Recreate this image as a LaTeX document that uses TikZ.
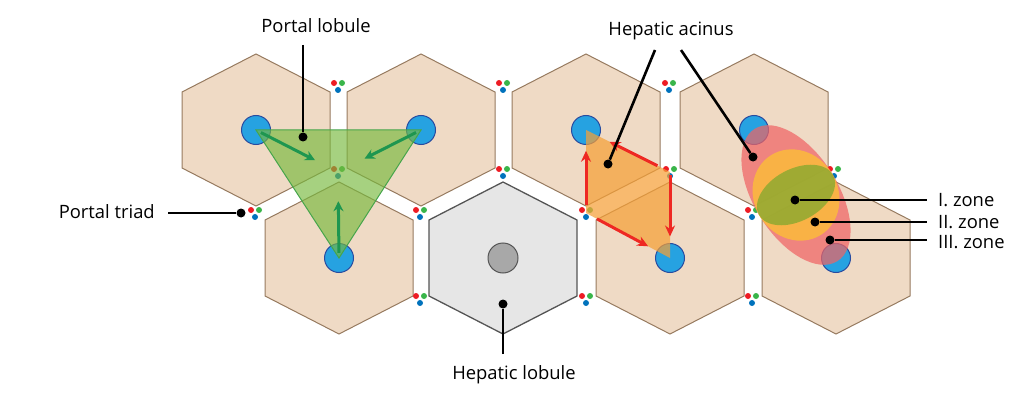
\documentclass[tikz,border=0pt]{standalone}
\usepackage{fontspec}
\setmainfont{Open Sans}
\usetikzlibrary{
		calc,
		positioning,
		arrows.meta
	}
\tikzset{
		>=stealth
	}
\definecolor{celltan}{RGB}{239,218,197}
\definecolor{cellline}{RGB}{150,122,95}
\definecolor{hepgrey}{RGB}{230,230,230}
\definecolor{hepline}{RGB}{85,85,85}
\definecolor{veingrey}{RGB}{168,168,168}
\definecolor{veinblue}{RGB}{38,162,225}
\definecolor{veinline}{RGB}{40,75,160}
\definecolor{trired}{RGB}{237,28,36}
\definecolor{trigreen}{RGB}{57,181,74}
\definecolor{triblue}{RGB}{0,114,188}
\definecolor{lobgreen}{RGB}{118,185,60}
\definecolor{lobedge}{RGB}{70,165,75}
\definecolor{lobdark}{RGB}{30,150,80}
\definecolor{aciorange}{RGB}{245,160,55}
\definecolor{acired}{RGB}{238,40,35}
\definecolor{zonered}{RGB}{240,100,100}
\definecolor{zoneyellow}{RGB}{252,190,55}
\definecolor{zonegreen}{RGB}{125,168,45}

\begin{document}
\begin{tikzpicture}[x=1pt, y=-1pt,
		cell/.style={draw=cellline, fill=celltan, line width=1pt},
		hepcell/.style={draw=hepline, fill=hepgrey, line width=1.3pt},
		vein/.style={circle, draw=veinline, fill=veinblue, line width=1pt, minimum size=29pt, inner sep=0pt},
		cvein/.style={circle, draw=hepline, fill=veingrey, line width=1pt, minimum size=30pt, inner sep=0pt},
		lobfill/.style={fill=lobgreen, fill opacity=0.65, draw=lobedge, line width=1pt},
		acifill/.style={fill=aciorange, fill opacity=0.72},
		lobarrow/.style={draw=lobdark, line width=3pt, -{Stealth[length=10pt, width=10pt]}},
		aciarrow/.style={draw=acired, line width=3pt, -{Stealth[length=11pt, width=10pt]}},
		dot/.style={circle, fill=black, minimum size=9pt, inner sep=0pt},
		pointer/.style={draw=black, line width=2.6pt},
		lbl/.style={font=\fontsize{18.4}{22}\selectfont, inner sep=0pt}]
	\useasboundingbox (0,0) rectangle (1033,409);
	% lobule centres
	\coordinate (h1) at (256,130);
	\coordinate (h2) at (421,130);
	\coordinate (h3) at (586,130);
	\coordinate (h4) at (754,130);
	\coordinate (h5) at (339,258);
	\coordinate (h6) at (503,258);
	\coordinate (h7) at (670,258);
	\coordinate (h8) at (836,258);
	\foreach \c in {h1,h2,h3,h4,h5,h7,h8}
		\draw[cell] ($(\c)+(0,-76)$) -- ++(74,38) -- ++(0,76) -- ++(-74,38) -- ++(-74,-38) -- ++(0,-76) -- cycle;
	\draw[hepcell] ($(h6)+(0,-76)$) -- ++(74,38) -- ++(0,76) -- ++(-74,38) -- ++(-74,-38) -- ++(0,-76) -- cycle;
	% central veins
	\node[vein] (v1) at (h1) {};
	\node[vein] (v2) at (h2) {};
	\node[vein] (v3) at (h3) {};
	\node[vein] (v4) at (h4) {};
	\node[vein] (v5) at (h5) {};
	\node[cvein] (v6) at (h6) {};
	\node[vein] (v7) at (h7) {};
	\node[vein] (v8) at (h8) {};
	% portal triads
	\foreach \x/\y [count=\i] in {338/86, 503/86, 669/86, 255/213, 420/213, 586/213, 752/213,
			338/172, 503/172, 670/172, 834/172, 420/299, 586/299, 752/299}{
		\coordinate (t\i) at (\x,\y);
		\fill[trired] ($(t\i)+(-4,-3)$) circle (3pt);
		\fill[trigreen] ($(t\i)+(4,-3)$) circle (3pt);
		\fill[triblue] ($(t\i)+(0,4)$) circle (3pt);
	}
	% portal lobule
	\filldraw[lobfill] (v1.center) -- (v2.center) -- (v5.center) -- cycle;
	\draw[lobarrow] ($(v1)!0.06!(t8)$) -- ($(v1)!0.72!(t8)$);
	\draw[lobarrow] ($(v2)!0.06!(t8)$) -- ($(v2)!0.68!(t8)$);
	\draw[lobarrow] ($(v5)!0.06!(t8)$) -- ($(v5)!0.66!(t8)$);
	% hepatic acinus
	\fill[acifill] (v3.center) -- (t10) -- (v7.center) -- (t6) -- cycle;
	\draw[aciarrow] ($(t6)!0.1!(v3)$) -- ($(t6)!0.75!(v3)$);
	\draw[aciarrow] ($(t10)!0.15!(v3)$) -- ($(t10)!0.72!(v3)$);
	\draw[aciarrow] ($(t10)!0.04!(v7)$) -- ($(t10)!0.75!(v7)$);
	\draw[aciarrow] ($(t6)!0.13!(v7)$) -- ($(t6)!0.74!(v7)$);
	% zones
	\coordinate (zc) at (796,195);
	\fill[zonered, fill opacity=0.72, rotate around={-58:(zc)}] (zc) ellipse [x radius=78pt, y radius=42pt];
	\fill[zoneyellow, fill opacity=0.8, rotate around={-58:(zc)}] (zc) ellipse [x radius=47pt, y radius=42pt];
	\fill[zonegreen, fill opacity=0.72, rotate around={28:(zc)}] (zc) ellipse [x radius=42pt, y radius=26pt];
	% labels
	\node[lbl] (loblbl) at (316,26) {Portal lobule};
	\node[lbl, anchor=east] (trilbl) at (155,212) {Portal triad};
	\node[lbl] (heplbl) at (514,375) {Hepatic lobule};
	\node[lbl] (acilbl) at (671,31) {Hepatic acinus};
	\node[lbl, anchor=west] (z1lbl) at (938,200) {I. zone};
	\node[lbl, anchor=west] (z2lbl) at (938,222) {II. zone};
	\node[lbl, anchor=west] (z3lbl) at (938,242) {III. zone};
	\node[dot] (d1) at (303,137) {};
	\node[dot] (d2) at (241,213) {};
	\node[dot] (d3) at (503,304) {};
	\node[dot] (d4) at (608,164) {};
	\node[dot] (d5) at (753,157) {};
	\node[dot] (d6) at (795,200) {};
	\node[dot] (d7) at (815,222) {};
	\node[dot] (d8) at (830,240) {};
	\coordinate (p1) at (303,45);
	\coordinate (p2) at (168,213);
	\coordinate (p3) at (503,354);
	\coordinate (p4) at (655,50);
	\coordinate (p5) at (681,50);
	\coordinate (p6) at (927,200);
	\coordinate (p7) at (927,222);
	\coordinate (p8) at (927,240);
	\draw[pointer] (p1) -- (d1);
	\draw[pointer] (p2) -- (d2);
	\draw[pointer] (p3) -- (d3);
	\draw[pointer] (p4) -- (d4);
	\draw[pointer] (p5) -- (d5);
	\draw[pointer] (d6) -- (p6);
	\draw[pointer] (d7) -- (p7);
	\draw[pointer] (d8) -- (p8);
\end{tikzpicture}
\end{document}
